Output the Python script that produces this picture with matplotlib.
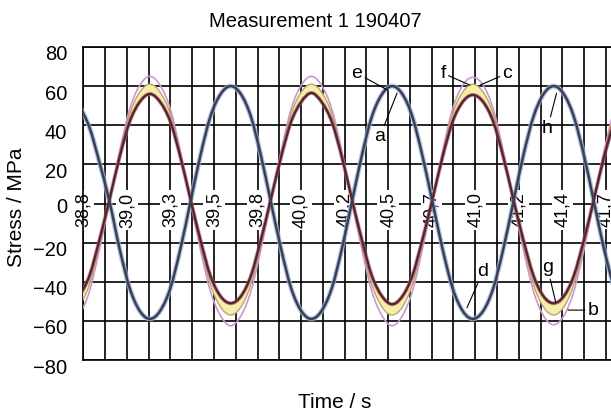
import matplotlib
matplotlib.use('Agg')
import matplotlib.pyplot as plt
import matplotlib.transforms as mtransforms
from matplotlib.path import Path
from matplotlib.patches import PathPatch
import numpy as np

plt.rcParams['font.family'] = ['Liberation Sans', 'DejaVu Sans']

# time samples / s
t = [38.758, 38.814, 38.870, 38.927, 38.983, 39.039, 39.095, 39.151, 39.207, 39.264,
     39.320, 39.376, 39.432, 39.488, 39.545, 39.601, 39.657, 39.713, 39.769, 39.825,
     39.882, 39.938, 39.994, 40.050, 40.106, 40.163, 40.219, 40.275, 40.331, 40.387,
     40.444, 40.500, 40.556, 40.612, 40.668, 40.725, 40.781, 40.837, 40.893, 40.949,
     41.006, 41.062, 41.118, 41.174, 41.230, 41.287, 41.343, 41.399, 41.455, 41.511,
     41.568, 41.624, 41.680, 41.736]

# stress / MPa, curves
a_dark = [-47.5, -37, -18.5, 2.5, 24, 42, 52, 56, 52, 42, 24, 2.5, -18.5, -37, -47.5, -51,
          -47.5, -37, -18.5, 2.5, 24, 42, 52, 56.5, 52, 42, 24, 2.5, -18.5, -37, -47.5, -51.5,
          -47.5, -37, -18.5, 2.5, 24, 42, 52, 55.5, 52, 42, 24, 2.5, -18.5, -37, -47.5, -51,
          -47.5, -37, -18.5, 2.5, 24, 42]
a_band = [-53, -41.5, -21, 2, 25.5, 46, 57, 61, 57, 46, 25.5, 2, -21, -41.5, -53, -57,
          -53, -41.5, -21, 2, 25.5, 46, 57, 61, 57, 46, 25.5, 2, -21, -41.5, -53, -57,
          -53, -41.5, -21, 2, 25.5, 46, 57, 61, 57, 46, 25.5, 2, -21, -41.5, -53, -57,
          -53, -41.5, -21, 2, 25.5, 46]
a_pink = [-57.5, -45, -23.5, 1.5, 27, 48.5, 60.5, 65, 60.5, 48.5, 27, 1.5, -23.5, -45, -57.5, -62.5,
          -57.5, -45, -23.5, 1.5, 27, 48.5, 60.5, 65, 60.5, 48.5, 27, 1.5, -23.5, -45, -57.5, -62.5,
          -57.5, -45, -23.5, 1.5, 27, 48.5, 60.5, 64.5, 60.5, 48.5, 27, 1.5, -23.5, -45, -57.5, -62,
          -57.5, -45, -23.5, 1.5, 27, 48.5]
b_dark = [50, 39, 21, 0.5, -23.5, -43.5, -55, -59, -55, -43.5, -23.5, 0.5, 24.5, 44.5, 56, 60,
          56, 44.5, 24.5, 0.5, -23.5, -43.5, -55, -59, -55, -43.5, -23.5, 0.5, 24.5, 44.5, 56, 60,
          56, 44.5, 24.5, 0.5, -23.5, -43.5, -55, -59, -55, -43.5, -23.5, 0.5, 24.5, 44.5, 56, 60,
          56, 44.5, 24.5, 0.5, -23.5, -43.5]

x_tick_labels = ['38,8', '39,0', '39,3', '39,5', '39,8', '40,0', '40,2',
                 '40,5', '40,7', '41,0', '41,2', '41,4', '41,7']
y_ticks = [-80, -60, -40, -20, 0, 20, 40, 60, 80]
y_tick_labels = ['\u221280', '\u221260', '\u221240', '\u221220', '0', '20', '40', '60', '80']


def smooth(x, y):
    # Catmull-Rom through the read points, as cubic bezier segments
    x = np.asarray(x, float)
    y = np.asarray(y, float)
    n = len(x)
    verts = [(x[0], y[0])]
    codes = [Path.MOVETO]
    for i in range(n - 1):
        i0 = max(i - 1, 0)
        i3 = min(i + 2, n - 1)
        c1 = (x[i] + (x[i + 1] - x[i0]) / 6, y[i] + (y[i + 1] - y[i0]) / 6)
        c2 = (x[i + 1] - (x[i3] - x[i]) / 6, y[i + 1] - (y[i3] - y[i]) / 6)
        verts += [c1, c2, (x[i + 1], y[i + 1])]
        codes += [Path.CURVE4] * 3
    return verts, codes


def curve(ax, x, y, **kw):
    v, c = smooth(x, y)
    ax.add_patch(PathPatch(Path(v, c), fill=False, capstyle='round', joinstyle='round', **kw))


def band(ax, x, y1, y2, **kw):
    v1, c1 = smooth(x, y1)
    v2, c2 = smooth(x[::-1], y2[::-1])
    c2[0] = Path.LINETO
    v = v1 + v2 + [v1[0]]
    c = c1 + c2 + [Path.CLOSEPOLY]
    ax.add_patch(PathPatch(Path(v, c), lw=0, **kw))


W, H = 611, 412
fig = plt.figure(figsize=(W / 100, H / 100), dpi=100)
ax = fig.add_axes([83.3 / W, 52 / H, (613.1 - 83.3) / W, 313 / H])

x0, step = 38.78, 0.2425
major = x0 + step * np.arange(len(x_tick_labels))
minor = x0 + step / 2 * np.arange(2 * len(x_tick_labels) - 1)

ax.set_xlim(38.78, 41.73)
ax.set_ylim(-80, 80)
ax.set_xticks(minor)
ax.set_xticklabels([])
ax.set_yticks(y_ticks)
ax.set_yticklabels([])
ax.tick_params(length=0)
ax.grid(True, color='black', lw=1.2)
ax.set_axisbelow(True)
for s in ['left', 'top', 'bottom']:
    ax.spines[s].set_linewidth(1.2)
ax.spines['right'].set_visible(False)

# y tick labels (sit a bit below their grid line)
for y, s in zip(y_ticks, y_tick_labels):
    dy = -4 if s == '0' else -8
    tr = ax.get_yaxis_transform() + mtransforms.ScaledTranslation(-16 / 100, dy / 100, fig.dpi_scale_trans)
    ax.text(0, y, s, transform=tr, ha='right', va='center', fontsize=14.5, clip_on=False)

# x tick labels sit inside the plot on the zero line
for x, s in zip(major, x_tick_labels):
    ax.text(x, -3.3, s, rotation=90, ha='center', va='center', fontsize=13, zorder=2,
            bbox=dict(boxstyle='square,pad=0.12', fc='white', ec='none'))

# curves
curve(ax, t, b_dark, edgecolor='#9fb4de', lw=3.6, alpha=0.75, zorder=3)
curve(ax, t, a_pink, edgecolor='#c99ac8', lw=1.2, zorder=3)
band(ax, t, a_band, a_dark, facecolor='#f3efa6', zorder=3)
curve(ax, t, a_band, edgecolor='#c0a07a', lw=1.0, zorder=3.1)
curve(ax, t, a_dark, edgecolor='#c05a6a', lw=2.8, alpha=0.7, zorder=3.2)
curve(ax, t, a_dark, edgecolor='#4a2830', lw=1.6, zorder=3.3)
curve(ax, t, b_dark, edgecolor='#3a3f52', lw=1.8, zorder=3.4)

notes = [('e', (40.303, 66.6), (40.476, 57.9)),
         ('a', (40.432, 34.4), (40.527, 56.4)),
         ('f', (40.783, 66.6), (40.933, 60.5)),
         ('c', (41.142, 66.6), (40.989, 60.5)),
         ('h', (41.365, 38.5), (41.415, 56.4)),
         ('d', (41.005, -35.0), (40.916, -53.3)),
         ('g', (41.365, -32.9), (41.410, -50.3)),
         ('b', (41.618, -54.5), (41.479, -54.5))]
for s, xyt, xy in notes:
    ax.annotate(s, xy=xy, xytext=xyt, ha='center', va='center', fontsize=14, zorder=5,
                arrowprops=dict(arrowstyle='-', lw=0.8, color='black', shrinkA=0, shrinkB=0))

fig.text(315.5 / W, 1 - 27 / H, 'Measurement 1 190407', ha='center', va='baseline', fontsize=14.5)
fig.text(335 / W, 1 - 408 / H, 'Time / s', ha='center', va='baseline', fontsize=15)
fig.text(17 / W, 1 - 207 / H, 'Stress / MPa', rotation=90, ha='center', va='center', fontsize=15)

fig.savefig('out.png', dpi=100)
